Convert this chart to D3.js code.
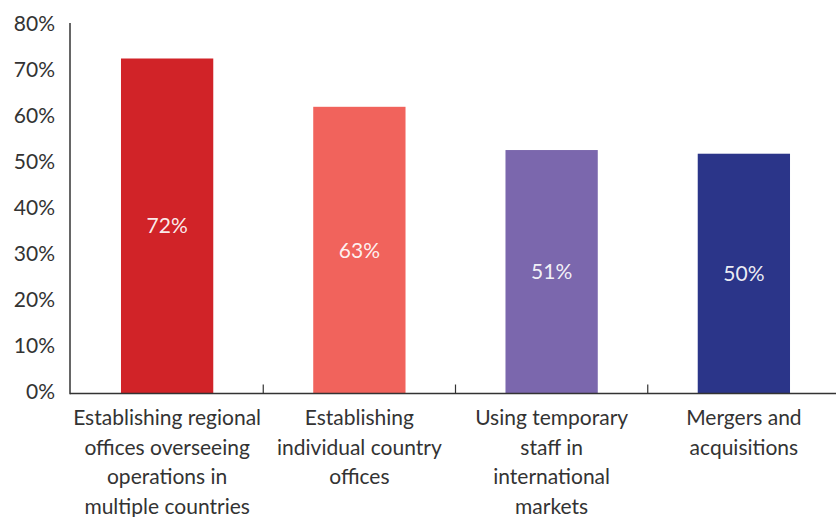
<!DOCTYPE html>
<html>
<head>
<meta charset="utf-8">
<script src="https://cdn.jsdelivr.net/npm/d3@7/dist/d3.min.js"></script>
<style>
  html, body { margin: 0; padding: 0; background: #fff; }
  svg text { font-family: "Lato", "Open Sans", sans-serif; }
</style>
</head>
<body>
<svg id="chart" width="836" height="517"></svg>
<script>
const categories = [
  ["Establishing regional", "offices overseeing", "operations in", "multiple countries"],
  ["Establishing", "individual country", "offices"],
  ["Using temporary", "staff in", "international", "markets"],
  ["Mergers and", "acquisitions"]
];
const values = [72.5, 62, 52.6, 51.8];
const valueLabels = ["72%", "63%", "51%", "50%"];
const colors = ["#d12328", "#f1635c", "#7b67ad", "#2b3589"];
const yTicks = [0, 10, 20, 30, 40, 50, 60, 70, 80];

(function () {
const svg = d3.select("#chart");
const mLeft = 70, mTop = 24, mBottom = 392, baseY = 393.5;
const ids = d3.range(categories.length);

const x = d3.scaleBand().domain(ids).range([71, 840]).paddingInner(0.52).paddingOuter(0.26);
const y = d3.scaleLinear().domain([0, 80]).range([mBottom, mTop]);

// y axis
const yAxis = svg.append("g")
  .attr("transform", `translate(${mLeft},0)`)
  .call(d3.axisLeft(y).tickValues(yTicks).tickFormat(d => d + "%").tickSize(0).tickSizeOuter(0).tickPadding(15));
yAxis.select(".domain").attr("stroke", "#333").attr("stroke-width", 1.5)
  .attr("d", `M0,${mTop - 1}V${baseY + 0.75}`);
yAxis.selectAll("text").attr("fill", "#333").style("font-size", "21px").attr("dy", "0.33em");

// bars
svg.append("g").selectAll("rect").data(ids).join("rect")
  .attr("x", i => x(i))
  .attr("width", x.bandwidth())
  .attr("y", i => y(values[i]))
  .attr("height", i => baseY - y(values[i]))
  .attr("fill", i => colors[i]);

// value labels
svg.append("g").selectAll("text").data(ids).join("text")
  .attr("x", i => x(i) + x.bandwidth() / 2)
  .attr("y", i => (y(values[i]) + baseY) / 2)
  .attr("text-anchor", "middle")
  .attr("dy", "0.35em")
  .attr("fill", "#fff")
  .attr("fill-opacity", 0.92)
  .style("font-size", "21px")
  .text(i => valueLabels[i]);

// x axis baseline
const xAxis = svg.append("g").attr("transform", `translate(0,${baseY})`)
  .call(d3.axisBottom(x).tickSize(0).tickSizeOuter(0).tickFormat(""));
xAxis.select(".domain").attr("stroke", "#333").attr("stroke-width", 1.5)
  .attr("d", `M${mLeft},0H836`);
xAxis.selectAll(".tick").remove();

// boundary ticks
const boundaries = ids.slice(1).map(i => x(i) - x.step() * x.paddingInner() / 2);
svg.append("g").selectAll("line").data(boundaries).join("line")
  .attr("x1", d => d).attr("x2", d => d)
  .attr("y1", baseY - 9).attr("y2", baseY)
  .attr("stroke", "#333").attr("stroke-width", 1.2);

// category labels
const catG = svg.append("g");
ids.forEach(i => {
  const t = catG.append("text")
    .attr("text-anchor", "middle")
    .attr("fill", "#333")
    .style("font-size", "21px");
  categories[i].forEach((line, k) => {
    t.append("tspan").attr("x", x(i) + x.bandwidth() / 2).attr("y", 425 + k * 29.7).text(line);
  });
});
})();
</script>
</body>
</html>
